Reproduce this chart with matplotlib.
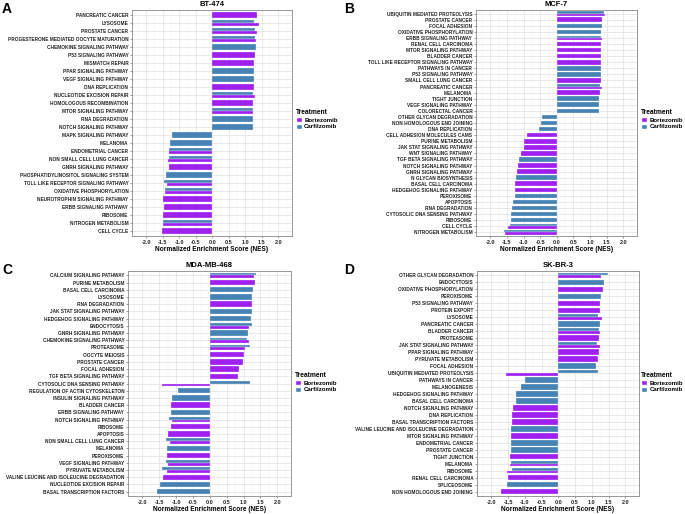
import numpy as np
import matplotlib
matplotlib.use("Agg")
import matplotlib.pyplot as plt
from matplotlib.patches import Patch
from matplotlib.ticker import MultipleLocator

plt.rcParams["font.family"] = ["Liberation Sans", "DejaVu Sans"]

BORT = "#A020F0"
CARF = "#4682B4"
na = np.nan

# ---- A: BT-474
bt474_paths = [
    "PANCREATIC CANCER", "LYSOSOME", "PROSTATE CANCER",
    "PROGESTERONE MEDIATED OOCYTE MATURATION", "CHEMOKINE SIGNALING PATHWAY",
    "P53 SIGNALING PATHWAY", "MISMATCH REPAIR", "PPAR SIGNALING PATHWAY",
    "VEGF SIGNALING PATHWAY", "DNA REPLICATION", "NUCLEOTIDE EXCISION REPAIR",
    "HOMOLOGOUS RECOMBINATION", "MTOR SIGNALING PATHWAY", "RNA DEGRADATION",
    "NOTCH SIGNALING PATHWAY", "MAPK SIGNALING PATHWAY", "MELANOMA",
    "ENDOMETRIAL CANCER", "NON SMALL CELL LUNG CANCER", "GNRH SIGNALING PATHWAY",
    "PHOSPHATIDYLINOSITOL SIGNALING SYSTEM", "TOLL LIKE RECEPTOR SIGNALING PATHWAY",
    "OXIDATIVE PHOSPHORYLATION", "NEUROTROPHIN SIGNALING PATHWAY",
    "ERBB SIGNALING PATHWAY", "RIBOSOME", "NITROGEN METABOLISM", "CELL CYCLE",
]
bt474_bort = [1.35, 1.40, 1.35, 1.31, na, 1.28, 1.27, na, na, 1.25, 1.28, 1.24, 1.24, na,
              na, na, na, -1.31, -1.33, -1.32, na, -1.38, -1.42, -1.48,
              -1.45, -1.48, -1.50, -1.52]
bt474_carf = [na, 1.25, 1.28, 1.29, 1.31, na, na, 1.27, 1.27, na, 1.22, na, 1.24, 1.24,
              1.22, -1.23, -1.28, -1.30, -1.30, na, -1.41, -1.45, -1.44, na,
              na, na, -1.48, na]

# ---- B: MCF-7
mcf7_paths = [
    "UBIQUITIN MEDIATED PROTEOLYSIS", "PROSTATE CANCER", "FOCAL ADHESION",
    "OXIDATIVE PHOSPHORYLATION", "ERBB SIGNALING PATHWAY", "RENAL CELL CARCINOMA",
    "MTOR SIGNALING PATHWAY", "BLADDER CANCER", "TOLL LIKE RECEPTOR SIGNALING PATHWAY",
    "PATHWAYS IN CANCER", "P53 SIGNALING PATHWAY", "SMALL CELL LUNG CANCER",
    "PANCREATIC CANCER", "MELANOMA", "TIGHT JUNCTION", "VEGF SIGNALING PATHWAY",
    "COLORECTAL CANCER", "OTHER GLYCAN DEGRADATION", "NON HOMOLOGOUS END JOINING",
    "DNA REPLICATION", "CELL ADHESION MOLECULES CAMS", "PURINE METABOLISM",
    "JAK STAT SIGNALING PATHWAY", "WNT SIGNALING PATHWAY", "TGF BETA SIGNALING PATHWAY",
    "NOTCH SIGNALING PATHWAY", "GNRH SIGNALING PATHWAY", "N GLYCAN BIOSYNTHESIS",
    "BASAL CELL CARCINOMA", "HEDGEHOG SIGNALING PATHWAY", "PEROXISOME", "APOPTOSIS",
    "RNA DEGRADATION", "CYTOSOLIC DNA SENSING PATHWAY", "RIBOSOME", "CELL CYCLE",
    "NITROGEN METABOLISM",
]
mcf7_bort = [1.46, 1.37, na, na, 1.35, 1.33, 1.33, 1.33, 1.33, na, na, 1.32, 1.35, 1.31,
             na, na, na, na, na, na, -0.90, -0.98, -0.99, -1.09, na, -1.16, -1.19, na,
             -1.26, -1.26, na, na, na, na, na, -1.48, -1.55]
mcf7_carf = [1.41, na, 1.36, 1.34, 1.32, na, na, na, na, 1.32, 1.32, na, 1.29, na,
             1.27, 1.27, 1.26, -0.45, -0.48, -0.53, na, na, na, na, -1.13, na, na, -1.23,
             na, na, -1.27, -1.33, -1.35, -1.37, -1.38, -1.40, -1.60]

# ---- C: MDA-MB-468
mda_paths = [
    "CALCIUM SIGNALING PATHWAY", "PURINE METABOLISM", "BASAL CELL CARCINOMA",
    "LYSOSOME", "RNA DEGRADATION", "JAK STAT SIGNALING PATHWAY",
    "HEDGEHOG SIGNALING PATHWAY", "ENDOCYTOSIS", "GNRH SIGNALING PATHWAY",
    "CHEMOKINE SIGNALING PATHWAY", "PROTEASOME", "OOCYTE MEIOSIS", "PROSTATE CANCER",
    "FOCAL ADHESION", "TGF BETA SIGNALING PATHWAY", "CYTOSOLIC DNA SENSING PATHWAY",
    "REGULATION OF ACTIN CYTOSKELETON", "INSULIN SIGNALING PATHWAY", "BLADDER CANCER",
    "ERBB SIGNALING PATHWAY", "NOTCH SIGNALING PATHWAY", "RIBOSOME", "APOPTOSIS",
    "NON SMALL CELL LUNG CANCER", "MELANOMA", "PEROXISOME", "VEGF SIGNALING PATHWAY",
    "PYRUVATE METABOLISM", "VALINE LEUCINE AND ISOLEUCINE DEGRADATION",
    "NUCLEOTIDE EXCISION REPAIR", "BASAL TRANSCRIPTION FACTORS",
]
mda_bort = [1.31, 1.33, na, na, 1.26, na, na, 1.15, na, 1.16, 1.05, 1.01, 0.98, 0.87,
            0.85, -1.41, na, na, -1.14, na, -1.12, -1.16, -1.23, -1.17, na, -1.26,
            -1.24, -1.28, -1.38, na, na]
mda_carf = [1.38, na, 1.27, 1.26, na, 1.24, 1.22, 1.26, 1.13, 1.09, 1.18, na, na, na,
            na, 1.20, -0.95, -1.11, na, -1.15, -1.20, na, na, -1.30, -1.26, na,
            -1.29, -1.41, na, -1.49, -1.57]

# ---- D: SK-BR-3
skbr3_paths = [
    "OTHER GLYCAN DEGRADATION", "ENDOCYTOSIS", "OXIDATIVE PHOSPHORYLATION",
    "PEROXISOME", "P53 SIGNALING PATHWAY", "PROTEIN EXPORT", "LYSOSOME",
    "PANCREATIC CANCER", "BLADDER CANCER", "PROTEASOME", "JAK STAT SIGNALING PATHWAY",
    "PPAR SIGNALING PATHWAY", "PYRUVATE METABOLISM", "FOCAL ADHESION",
    "UBIQUITIN MEDIATED PROTEOLYSIS", "PATHWAYS IN CANCER", "MELANOGENESIS",
    "HEDGEHOG SIGNALING PATHWAY", "BASAL CELL CARCINOMA", "NOTCH SIGNALING PATHWAY",
    "DNA REPLICATION", "BASAL TRANSCRIPTION FACTORS",
    "VALINE LEUCINE AND ISOLEUCINE DEGRADATION", "MTOR SIGNALING PATHWAY",
    "ENDOMETRIAL CANCER", "PROSTATE CANCER", "TIGHT JUNCTION", "MELANOMA", "RIBOSOME",
    "RENAL CELL CARCINOMA", "SPLICEOSOME", "NON HOMOLOGOUS END JOINING",
]
skbr3_bort = [1.28, na, 1.32, na, 1.25, 1.25, 1.29, na, 1.25, 1.21, 1.25, 1.20, 1.19, na,
              -1.57, na, na, na, na, -1.34, -1.37, -1.39, na, -1.41, na, na, -1.43,
              -1.45, -1.53, -1.51, na, -1.71]
skbr3_carf = [1.48, 1.37, na, 1.27, na, na, 1.19, 1.24, 1.21, na, 1.16, na, na, 1.12,
              1.19, -0.99, -1.13, -1.25, -1.26, na, na, na, -1.41, na, -1.41, -1.42, na,
              -1.42, -1.38, na, -1.53, na]


def px(x0, y0, x1, y1):
    W, H = 685.0, 514.0
    return [x0 / W, 1 - y1 / H, (x1 - x0) / W, (y1 - y0) / H]


def draw_panel(fig, rect, letter, title, paths, bort, carf, legend_xy):
    ax = fig.add_axes(px(*rect))
    n = len(paths)
    ypos = np.arange(n, 0, -1)
    w = 0.75
    for y, b, c in zip(ypos, bort, carf):
        hb, hc = not np.isnan(b), not np.isnan(c)
        if hb and hc:
            ax.barh(y + w / 4, c, height=w / 2, color=CARF, edgecolor="white", linewidth=0.2, zorder=3)
            ax.barh(y - w / 4, b, height=w / 2, color=BORT, edgecolor="white", linewidth=0.2, zorder=3)
        elif hb:
            ax.barh(y, b, height=w, color=BORT, edgecolor="white", linewidth=0.2, zorder=3)
        elif hc:
            ax.barh(y, c, height=w, color=CARF, edgecolor="white", linewidth=0.2, zorder=3)

    ax.set_xlim(-2.43, 2.41)
    ax.set_ylim(0.4, n + 0.6)
    ax.set_yticks(ypos)
    ax.set_yticklabels(paths, fontsize=3.45, fontweight="bold", color="#222222")
    ticks = np.arange(-2.0, 2.01, 0.5)
    ax.set_xticks(ticks)
    ax.xaxis.set_minor_locator(MultipleLocator(0.25))
    ax.set_xticklabels(["%.1f" % t for t in ticks], fontsize=4, fontweight="bold", color="#222222")
    ax.tick_params(axis="both", which="major", length=1.5, width=0.4, color="#555555", pad=1.2)
    ax.tick_params(axis="x", which="minor", length=0)
    ax.grid(True, which="major", color="#E0E0E0", linewidth=0.5, zorder=0)
    ax.grid(True, which="minor", axis="x", color="#EEEEEE", linewidth=0.3, zorder=0)
    ax.set_axisbelow(True)
    for s in ax.spines.values():
        s.set_color("#888888")
        s.set_linewidth(0.6)
    ax.set_xlabel("Normalized Enrichment Score (NES)", fontsize=4.7, fontweight="bold", labelpad=1)
    ax.set_title(title, fontsize=5.5, fontweight="bold", pad=3)

    lx = (2 if letter in "AC" else 344) / 685.0
    ly = 1 - (rect[1] - 8) / 514.0
    fig.text(lx, ly, letter, fontsize=10, fontweight="bold", va="top", ha="left")

    handles = [Patch(facecolor=BORT, edgecolor="white", label="Bortezomib"),
               Patch(facecolor=CARF, edgecolor="white", label="Carfilzomib")]
    leg = fig.legend(handles=handles, title="Treatment", loc="upper left",
                     bbox_to_anchor=(legend_xy[0] / 685.0, 1 - legend_xy[1] / 514.0),
                     frameon=False, fontsize=4.4, title_fontsize=4.8,
                     handlelength=1.0, handleheight=1.0, handletextpad=0.35,
                     labelspacing=0.15, borderpad=0, borderaxespad=0)
    for t in leg.get_texts():
        t.set_fontweight("bold")
    leg.get_title().set_fontweight("bold")
    leg._legend_box.align = "left"
    return ax


fig = plt.figure(figsize=(6.85, 5.14), dpi=100)

draw_panel(fig, (132, 10, 292, 236), "A", "BT-474", bt474_paths, bt474_bort, bt474_carf, (296, 109))
draw_panel(fig, (476, 10, 637, 236), "B", "MCF-7", mcf7_paths, mcf7_bort, mcf7_carf, (641, 109))
draw_panel(fig, (128, 271, 291, 496), "C", "MDA-MB-468", mda_paths, mda_bort, mda_carf, (295, 372))
draw_panel(fig, (477, 271, 639, 496), "D", "SK-BR-3", skbr3_paths, skbr3_bort, skbr3_carf, (641, 372))

fig.savefig("out.png", dpi=100)
